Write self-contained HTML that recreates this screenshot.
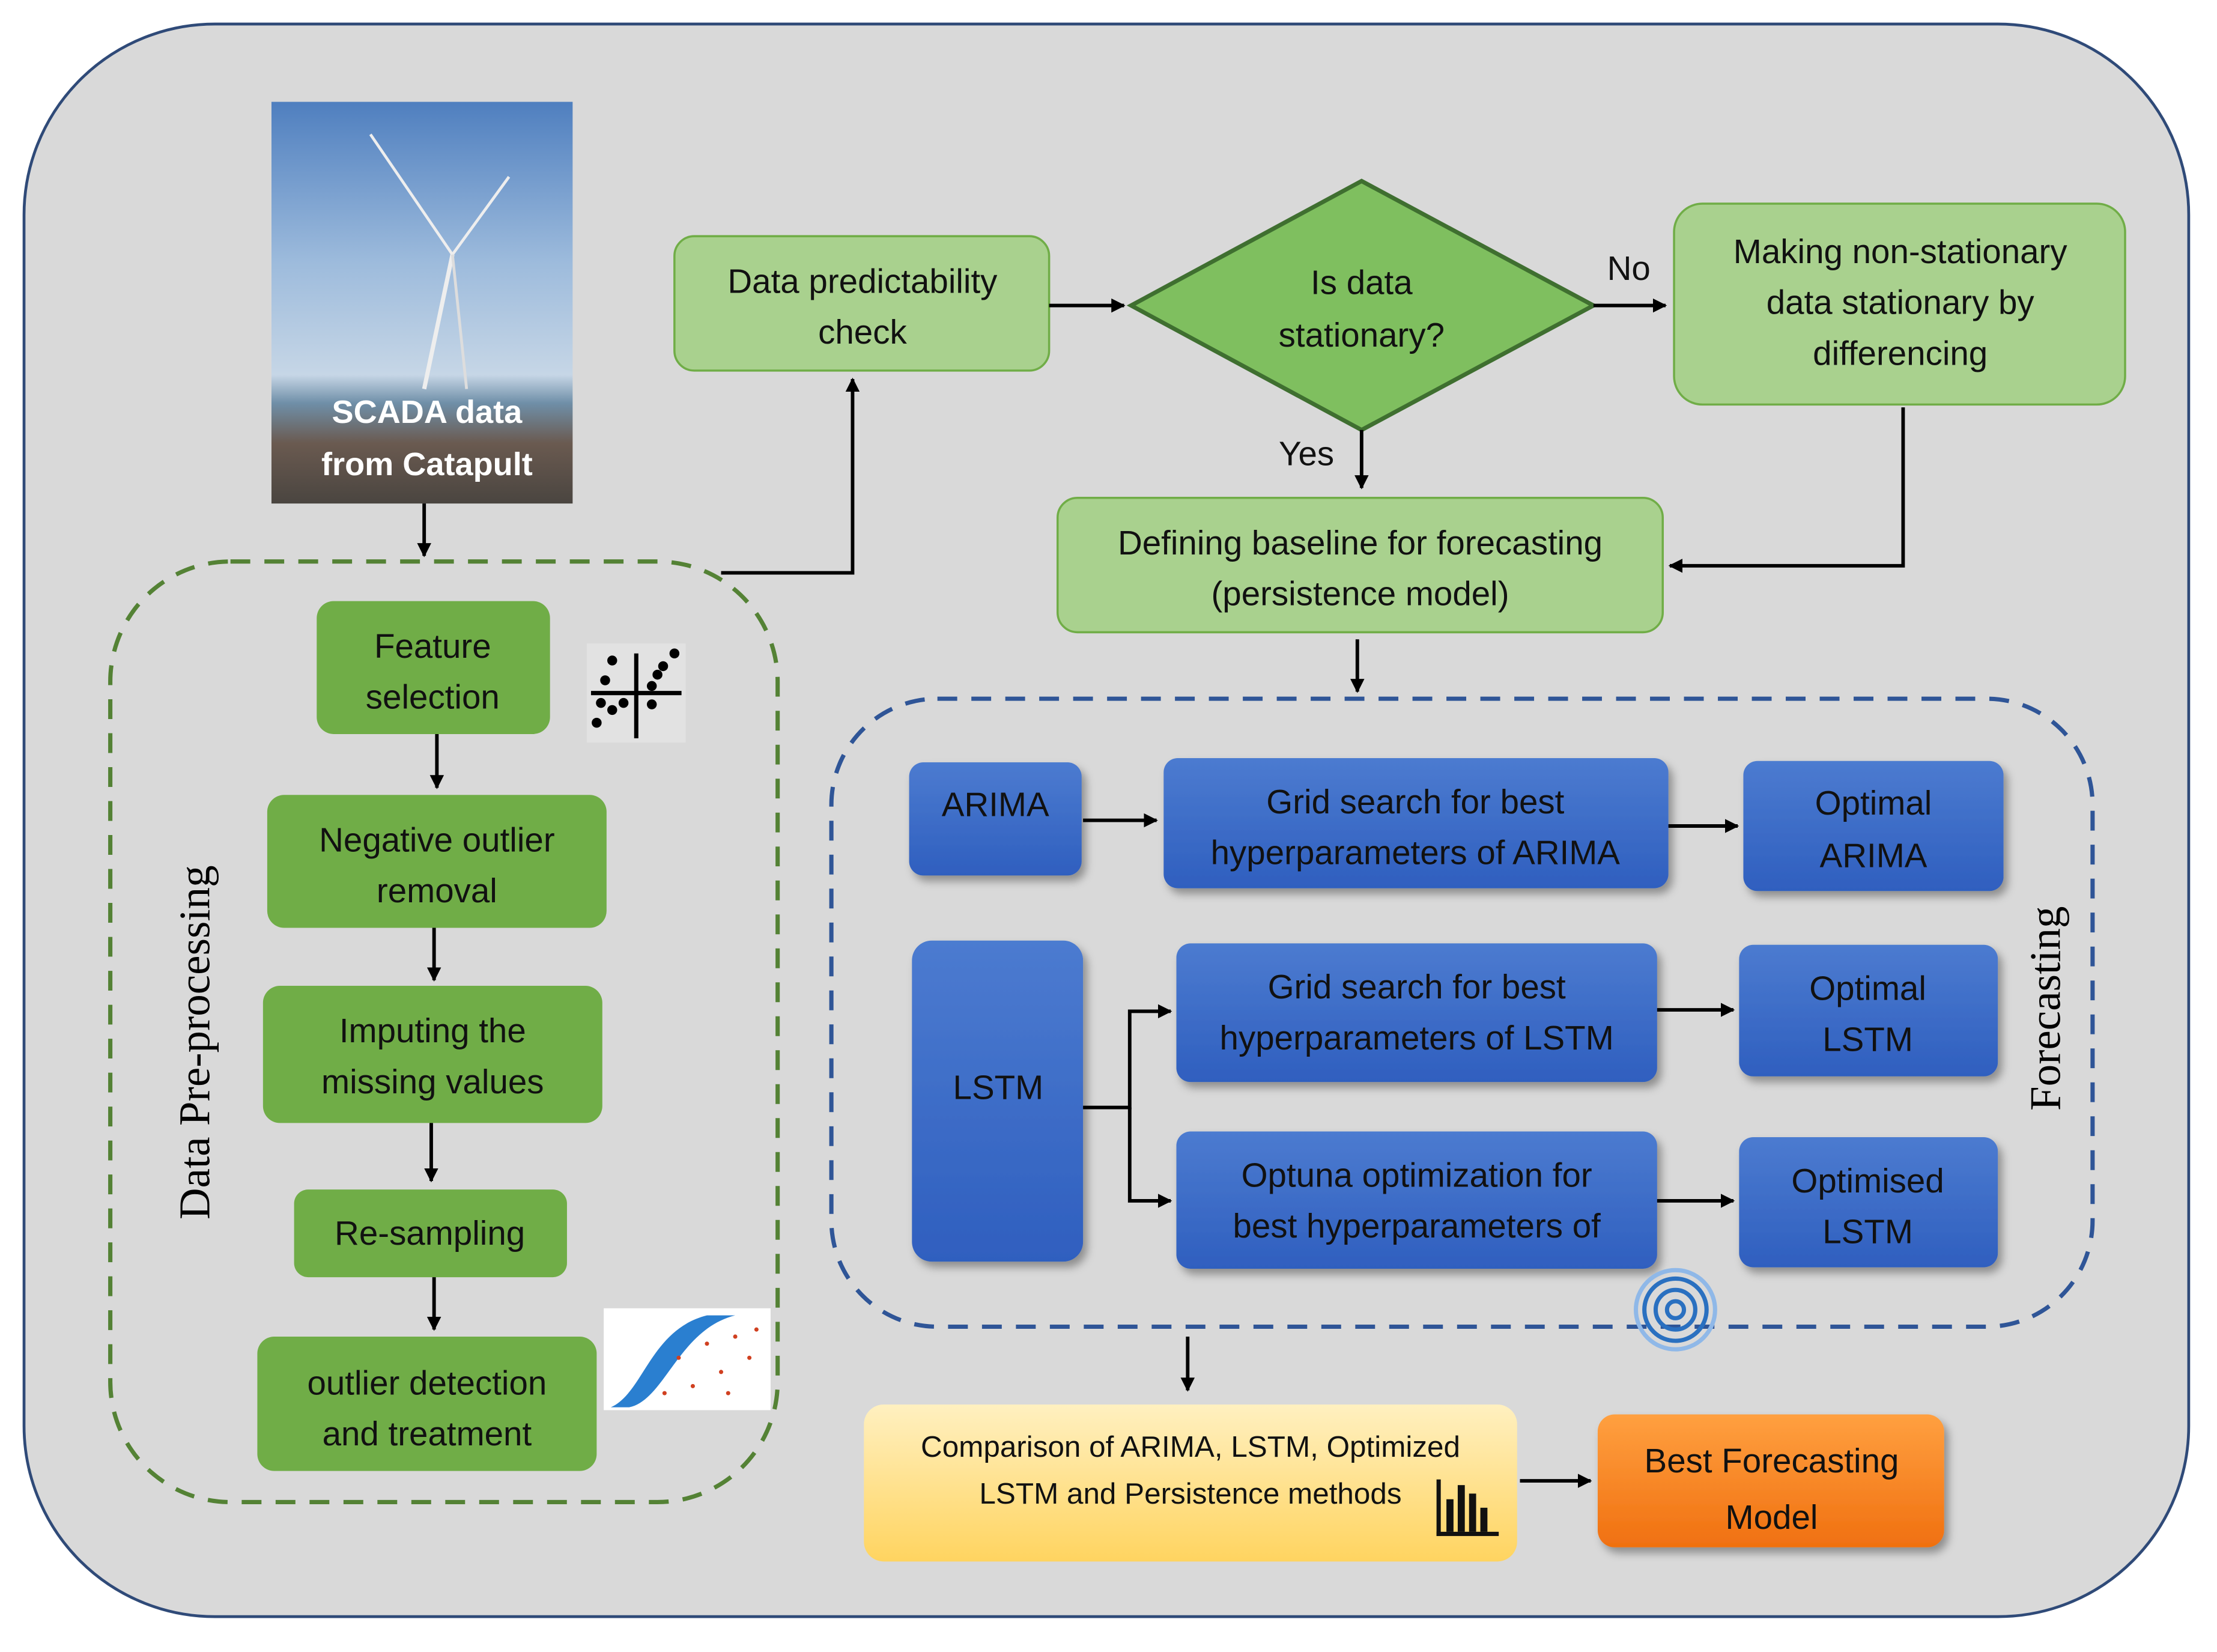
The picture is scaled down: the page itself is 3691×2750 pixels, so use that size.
<!DOCTYPE html>
<html><head><meta charset="utf-8"><style>
html,body{margin:0;padding:0;background:#fff;}
svg{display:block;}
text{font-family:"Liberation Sans",sans-serif;}
</style></head><body>
<svg width="3691" height="2750" viewBox="0 0 1568 1168" preserveAspectRatio="none" xmlns="http://www.w3.org/2000/svg">
<defs>
<marker id="ah" markerWidth="10" markerHeight="10" refX="9" refY="5" orient="auto" markerUnits="userSpaceOnUse">
<path d="M0,0 L10,5 L0,10 z" fill="#000"/></marker>
<linearGradient id="sky" x1="0" y1="0" x2="0" y2="1">
<stop offset="0" stop-color="#4f7fbf"/><stop offset="0.4" stop-color="#9dbbdc"/><stop offset="0.68" stop-color="#c6d6e6"/><stop offset="0.75" stop-color="#6f8fa8"/><stop offset="0.85" stop-color="#6a5a50"/><stop offset="1" stop-color="#4a4540"/></linearGradient>
<linearGradient id="blue" x1="0" y1="0" x2="0" y2="1">
<stop offset="0" stop-color="#4c7bd0"/><stop offset="1" stop-color="#2f5fbf"/></linearGradient>
<linearGradient id="yel" x1="0" y1="0" x2="0" y2="1">
<stop offset="0" stop-color="#fff0c0"/><stop offset="1" stop-color="#ffd460"/></linearGradient>
<linearGradient id="org" x1="0" y1="0" x2="0" y2="1">
<stop offset="0" stop-color="#ffa040"/><stop offset="1" stop-color="#f07010"/></linearGradient>
<filter id="sh" x="-10%" y="-10%" width="130%" height="140%"><feDropShadow dx="3" dy="4" stdDeviation="3" flood-color="#000" flood-opacity="0.35"/></filter>
</defs>
<rect x="0" y="0" width="1568" height="1168" fill="#fff"/>
<rect x="17" y="17" width="1531" height="1126" rx="135" fill="#d9d9d9" stroke="#2f4a78" stroke-width="2"/>

<!-- photo -->
<rect x="192" y="72" width="213" height="284" fill="url(#sky)"/>
<line x1="320" y1="180" x2="300" y2="275" stroke="#eee" stroke-width="3"/>
<line x1="320" y1="180" x2="262" y2="95" stroke="#eee" stroke-width="2"/>
<line x1="320" y1="180" x2="360" y2="125" stroke="#eee" stroke-width="2"/>
<line x1="320" y1="180" x2="330" y2="275" stroke="#ddd" stroke-width="2"/>
<text x="302" y="299" font-size="23" font-weight="bold" fill="#fff" text-anchor="middle">SCADA data</text>
<text x="302" y="336" font-size="23" font-weight="bold" fill="#fff" text-anchor="middle">from Catapult</text>
<line x1="300" y1="356" x2="300" y2="393" stroke="#000" stroke-width="2.5" marker-end="url(#ah)"/>

<!-- preprocessing -->
<rect x="78" y="397" width="472" height="665" rx="85" fill="none" stroke="#548235" stroke-width="3" stroke-dasharray="14,10"/>
<text transform="translate(148,737) rotate(-90)" font-size="31" text-anchor="middle" style="font-family:'Liberation Serif',serif">Data Pre-processing</text>
<g font-size="24" text-anchor="middle" fill="#111">
<rect x="224" y="425" width="165" height="94" rx="12" fill="#70ad47"/>
<text x="306" y="465">Feature</text><text x="306" y="501">selection</text>
<rect x="189" y="562" width="240" height="94" rx="12" fill="#70ad47"/>
<text x="309" y="602">Negative outlier</text><text x="309" y="638">removal</text>
<rect x="186" y="697" width="240" height="97" rx="12" fill="#70ad47"/>
<text x="306" y="737">Imputing the</text><text x="306" y="773">missing values</text>
<rect x="208" y="841" width="193" height="62" rx="10" fill="#70ad47"/>
<text x="304" y="880">Re-sampling</text>
<rect x="182" y="945" width="240" height="95" rx="12" fill="#70ad47"/>
<text x="302" y="986">outlier detection</text><text x="302" y="1022">and treatment</text>
</g>
<g stroke="#000" stroke-width="2.5">
<line x1="309" y1="519" x2="309" y2="557" marker-end="url(#ah)"/>
<line x1="307" y1="656" x2="307" y2="693" marker-end="url(#ah)"/>
<line x1="305" y1="794" x2="305" y2="835" marker-end="url(#ah)"/>
<line x1="307" y1="903" x2="307" y2="940" marker-end="url(#ah)"/>
</g>
<!-- scatter icon -->
<rect x="415" y="455" width="70" height="70" fill="#e2e2e2"/>
<g stroke="#000" stroke-width="3"><line x1="450" y1="462" x2="450" y2="522"/><line x1="418" y1="490" x2="482" y2="490"/></g>
<g fill="#000"><circle cx="433" cy="467" r="3.5"/><circle cx="477" cy="462" r="3.5"/><circle cx="469" cy="471" r="3.5"/><circle cx="465" cy="477" r="3.5"/><circle cx="428" cy="481" r="3.5"/><circle cx="461" cy="485" r="3.5"/><circle cx="425" cy="497" r="3.5"/><circle cx="433" cy="502" r="3.5"/><circle cx="441" cy="497" r="3.5"/><circle cx="461" cy="498" r="3.5"/><circle cx="422" cy="511" r="3.5"/></g>
<!-- chart image -->
<rect x="427" y="925" width="118" height="72" fill="#fff"/>
<path d="M432,995 C455,985 460,940 500,930 L520,930 C480,940 470,990 445,995 z" fill="#2a7fd0"/>
<g fill="#d04020"><circle cx="480" cy="960" r="1.5"/><circle cx="500" cy="950" r="1.5"/><circle cx="520" cy="945" r="1.5"/><circle cx="510" cy="970" r="1.5"/><circle cx="530" cy="960" r="1.5"/><circle cx="490" cy="980" r="1.5"/><circle cx="535" cy="940" r="1.5"/><circle cx="470" cy="985" r="1.5"/><circle cx="515" cy="985" r="1.5"/></g>

<!-- top flow -->
<polyline points="510,405 603,405 603,268" fill="none" stroke="#000" stroke-width="2.5" marker-end="url(#ah)"/>
<rect x="477" y="167" width="265" height="95" rx="14" fill="#a9d18e" stroke="#70ad47" stroke-width="1.5"/>
<g font-size="24" text-anchor="middle" fill="#111">
<text x="610" y="207">Data predictability</text><text x="610" y="243">check</text>
</g>
<line x1="742" y1="216" x2="795" y2="216" stroke="#000" stroke-width="2.5" marker-end="url(#ah)"/>
<polygon points="963,128 1127,216 963,304 800,216" fill="#7fbf5f" stroke="#3f6f30" stroke-width="3"/>
<g font-size="24" text-anchor="middle" fill="#111">
<text x="963" y="208">Is data</text><text x="963" y="245">stationary?</text>
<text x="1152" y="198">No</text><text x="924" y="329">Yes</text>
</g>
<line x1="1127" y1="216" x2="1178" y2="216" stroke="#000" stroke-width="2.5" marker-end="url(#ah)"/>
<rect x="1184" y="144" width="319" height="142" rx="20" fill="#a9d18e" stroke="#70ad47" stroke-width="1.5"/>
<g font-size="24" text-anchor="middle" fill="#111">
<text x="1344" y="186">Making non-stationary</text><text x="1344" y="222">data stationary by</text><text x="1344" y="258">differencing</text>
</g>
<polyline points="1346,288 1346,400 1181,400" fill="none" stroke="#000" stroke-width="2.5" marker-end="url(#ah)"/>
<line x1="963" y1="304" x2="963" y2="345" stroke="#000" stroke-width="2.5" marker-end="url(#ah)"/>
<rect x="748" y="352" width="428" height="95" rx="14" fill="#a9d18e" stroke="#70ad47" stroke-width="1.5"/>
<g font-size="24" text-anchor="middle" fill="#111">
<text x="962" y="392">Defining baseline for forecasting</text><text x="962" y="428">(persistence model)</text>
</g>
<line x1="960" y1="452" x2="960" y2="489" stroke="#000" stroke-width="2.5" marker-end="url(#ah)"/>

<!-- forecasting -->
<rect x="588" y="494" width="892" height="444" rx="75" fill="none" stroke="#2f5597" stroke-width="3" stroke-dasharray="14,10"/>
<text transform="translate(1457,713) rotate(-90)" font-size="31" text-anchor="middle" style="font-family:'Liberation Serif',serif">Forecasting</text>
<g filter="url(#sh)" fill="url(#blue)">
<rect x="643" y="539" width="122" height="80" rx="10"/>
<rect x="823" y="536" width="357" height="92" rx="10"/>
<rect x="1233" y="538" width="184" height="92" rx="10"/>
<rect x="645" y="665" width="121" height="227" rx="14"/>
<rect x="832" y="667" width="340" height="98" rx="10"/>
<rect x="1230" y="668" width="183" height="93" rx="10"/>
<rect x="832" y="800" width="340" height="97" rx="10"/>
<rect x="1230" y="804" width="183" height="92" rx="10"/>
</g>
<g font-size="24" text-anchor="middle" fill="#111">
<text x="704" y="577">ARIMA</text>
<text x="1001" y="575">Grid search for best</text><text x="1001" y="611">hyperparameters of ARIMA</text>
<text x="1325" y="576">Optimal</text><text x="1325" y="613">ARIMA</text>
<text x="706" y="777">LSTM</text>
<text x="1002" y="706">Grid search for best</text><text x="1002" y="742">hyperparameters of LSTM</text>
<text x="1321" y="707">Optimal</text><text x="1321" y="743">LSTM</text>
<text x="1002" y="839">Optuna optimization for</text><text x="1002" y="875">best hyperparameters of</text>
<text x="1321" y="843">Optimised</text><text x="1321" y="879">LSTM</text>
</g>
<g stroke="#000" stroke-width="2.5" fill="none">
<line x1="766" y1="580" x2="818" y2="580" marker-end="url(#ah)"/>
<line x1="1180" y1="584" x2="1229" y2="584" marker-end="url(#ah)"/>
<polyline points="766,783 799,783 799,715 828,715" marker-end="url(#ah)"/>
<polyline points="799,783 799,849 828,849" marker-end="url(#ah)"/>
<line x1="1172" y1="714" x2="1226" y2="714" marker-end="url(#ah)"/>
<line x1="1172" y1="849" x2="1226" y2="849" marker-end="url(#ah)"/>
<line x1="840" y1="945" x2="840" y2="983" marker-end="url(#ah)"/>
<line x1="1075" y1="1047" x2="1125" y2="1047" marker-end="url(#ah)"/>
</g>
<!-- spiral -->
<g fill="none" stroke="#2a70c0" stroke-width="3"><circle cx="1185" cy="926" r="28" stroke="#8fb8e8"/><circle cx="1185" cy="926" r="22"/><circle cx="1185" cy="926" r="14"/><circle cx="1185" cy="926" r="6"/></g>

<!-- bottom -->
<rect x="611" y="993" width="462" height="111" rx="14" fill="url(#yel)"/>
<g font-size="21" text-anchor="middle" fill="#111">
<text x="842" y="1030">Comparison of ARIMA, LSTM, Optimized</text><text x="842" y="1063">LSTM and Persistence methods</text>
</g>
<g fill="#111"><rect x="1016" y="1046" width="3" height="40"/><rect x="1016" y="1083" width="44" height="3"/><rect x="1023" y="1060" width="5" height="23"/><rect x="1031" y="1050" width="5" height="33"/><rect x="1039" y="1056" width="5" height="27"/><rect x="1047" y="1066" width="5" height="17"/></g>
<rect x="1130" y="1000" width="245" height="94" rx="12" fill="url(#org)" filter="url(#sh)"/>
<g font-size="24" text-anchor="middle" fill="#111">
<text x="1253" y="1041">Best Forecasting</text><text x="1253" y="1081">Model</text>
</g>
</svg>
</body></html>
